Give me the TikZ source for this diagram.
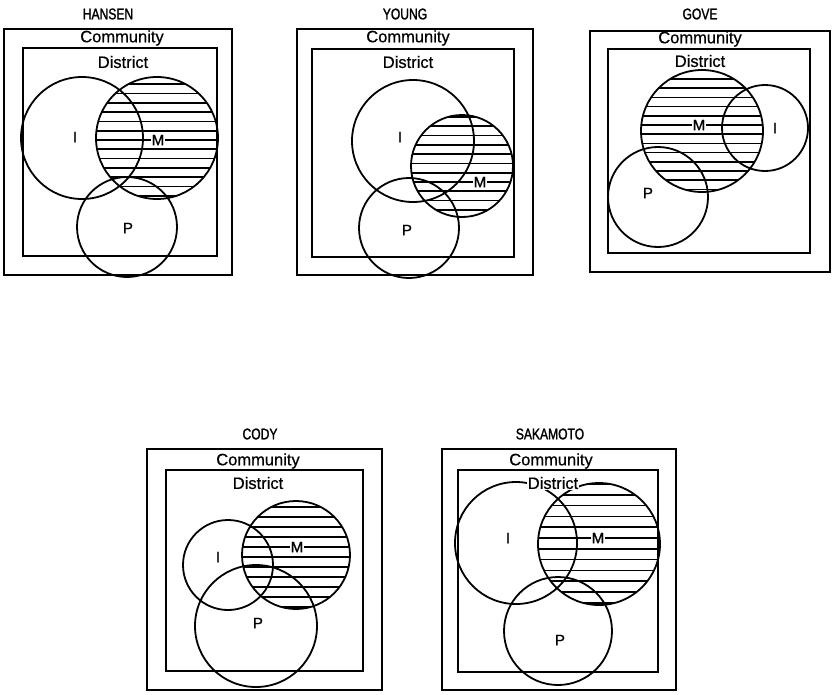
\documentclass[tikz,border=0pt]{standalone}
\usepackage{fontspec}
\setmainfont{Liberation Sans}
\newfontfamily\titlefont[FakeStretch=0.78,FakeBold=1.5]{Liberation Sans}
\newfontfamily\regfont[FakeBold=0.6]{Liberation Sans}
\newfontfamily\lblfont[FakeBold=1.2]{Liberation Sans}
\tikzset{
  frame/.style={draw=black, line width=1.8pt},
  ring/.style={draw=black, line width=1.8pt},
  hatchline/.style={draw=black, line width=1.7pt},
  ttl/.style={font=\titlefont\fontsize{15.5}{17}\selectfont, inner sep=0pt},
  reg/.style={font=\regfont\fontsize{16.5}{18}\selectfont, inner sep=0pt},
  lbl/.style={font=\lblfont\fontsize{15}{17}\selectfont, inner sep=0pt},
  mlbl/.style={font=\lblfont\fontsize{15}{17}\selectfont, fill=white, inner sep=1.2pt},
}
\newcommand{\mhatch}[5]{%
  \begin{scope}
    \clip (#1,#2) circle[radius=#3pt];
    \foreach \k in {-10,...,10}{\draw[hatchline] ({#1-#3},{#4+\k*#5}) -- ({#1+#3},{#4+\k*#5});}
  \end{scope}}
\begin{document}
\begin{tikzpicture}[x=1pt,y=-1pt]
\useasboundingbox (0,0) rectangle (834,694);

% ================= HANSEN =================
\node[ttl] (tH) at (108,14) {HANSEN};
\draw[frame] (4,29) rectangle (232,275);
\draw[frame] (23,48) rectangle (217,256);
\node[reg] (cH) at (122,38) {Community};
\node[reg] (dH) at (123,62) {District};
\mhatch{157}{138}{61}{140}{9.3}
\draw[ring] (82,138) circle[radius=61pt];
\draw[ring] (157,138) circle[radius=61pt];
\draw[ring] (127,227) circle[radius=50pt];
\node[lbl] (iH) at (75,137) {I};
\node[mlbl] (mH) at (158,140) {M};
\node[lbl] (pH) at (128,228) {P};

% ================= YOUNG =================
\node[ttl] (tY) at (405,14) {YOUNG};
\draw[frame] (297,29) rectangle (533,275);
\draw[frame] (312,49) rectangle (514,257);
\node[reg] (cY) at (408,38) {Community};
\node[reg] (dY) at (408,62) {District};
\mhatch{462}{166}{51}{182}{9.3}
\draw[ring] (413,141) circle[radius=61pt];
\draw[ring] (462,166) circle[radius=51pt];
\draw[ring] (409,228) circle[radius=50pt];
\node[lbl] (iY) at (400,137) {I};
\node[mlbl] (mY) at (480,182) {M};
\node[lbl] (pY) at (407,230) {P};

% ================= GOVE =================
\node[ttl] (tG) at (700,14) {GOVE};
\draw[frame] (590,31) rectangle (830,272);
\draw[frame] (608,49) rectangle (810,253);
\node[reg] (cG) at (700,39) {Community};
\node[reg] (dG) at (700,61) {District};
\mhatch{702}{131}{61}{125}{9.2}
\draw[ring] (702,131) circle[radius=61pt];
\draw[ring] (765,128) circle[radius=43pt];
\draw[ring] (658,197) circle[radius=50pt];
\node[mlbl] (mG) at (699,125) {M};
\node[lbl] (iG) at (775,128) {I};
\node[lbl] (pG) at (648,193) {P};

% ================= CODY =================
\node[ttl] (tC) at (260,434) {CODY};
\draw[frame] (147,449) rectangle (382,690);
\draw[frame] (166,470) rectangle (363,671);
\node[reg] (cC) at (258,461) {Community};
\node[reg] (dC) at (258,483) {District};
\mhatch{296}{555}{54}{547}{10}
\draw[ring] (228,565) circle[radius=45pt];
\draw[ring] (296,555) circle[radius=54pt];
\draw[ring] (256,626) circle[radius=61pt];
\node[lbl] (iC) at (218,557) {I};
\node[mlbl] (mC) at (297,547) {M};
\node[lbl] (pC) at (258,623) {P};

% ================= SAKAMOTO =================
\node[ttl] (tS) at (550,434) {SAKAMOTO};
\draw[frame] (442,449) rectangle (676,690);
\draw[frame] (458,470) rectangle (658,672);
\node[reg] (cS) at (551,461) {Community};
\mhatch{599}{544}{61}{538}{10.8}
\draw[ring] (516,543) circle[radius=61pt];
\draw[ring] (599,544) circle[radius=61pt];
\draw[ring] (558,631) circle[radius=54pt];
\node[reg, fill=white, inner sep=1pt] (dS) at (553,483) {District};
\node[lbl] (iS) at (508,538) {I};
\node[mlbl] (mS) at (598,538) {M};
\node[lbl] (pS) at (560,640) {P};
\end{tikzpicture}
\end{document}
